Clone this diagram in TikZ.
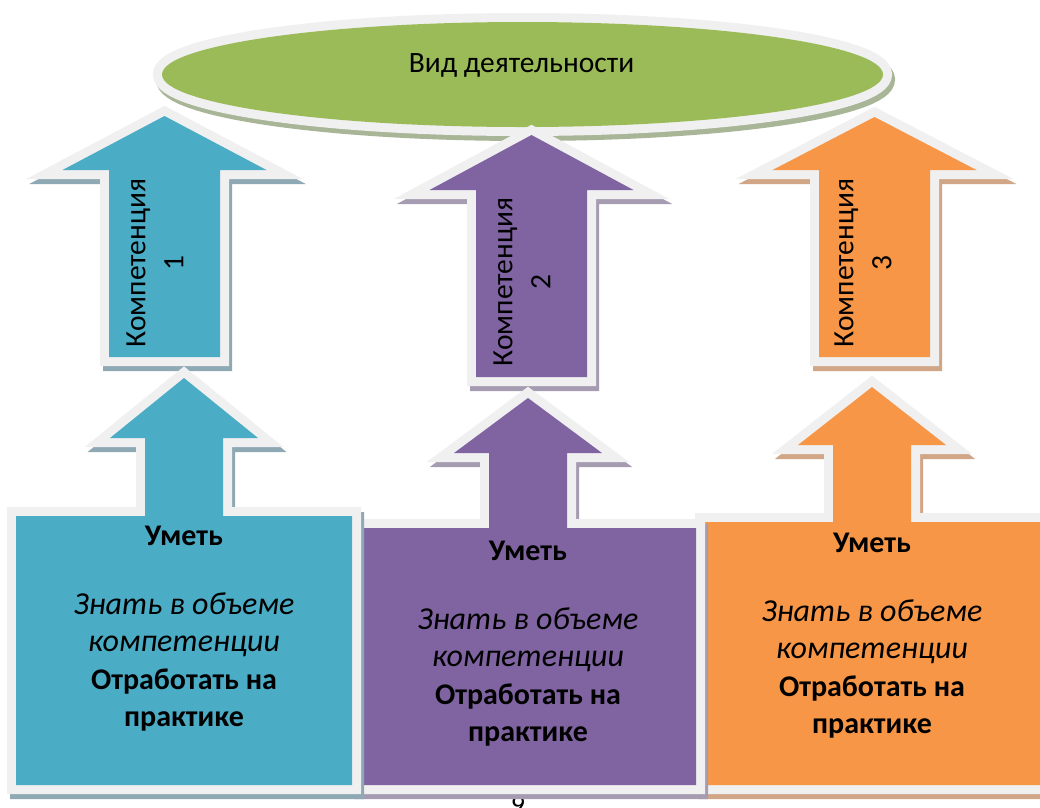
\documentclass[tikz,border=0pt]{standalone}
\usepackage{fontspec}
\setmainfont{Carlito}
\definecolor{cblue}{HTML}{4BACC6}
\definecolor{cpurple}{HTML}{8064A2}
\definecolor{corange}{HTML}{F79646}
\definecolor{cgreen}{HTML}{9BBB59}
\definecolor{cedge}{HTML}{F0F0F0}
\definecolor{sblue}{HTML}{8EA9B4}
\definecolor{spurple}{HTML}{A69CB2}
\definecolor{sorange}{HTML}{D0A687}
\definecolor{sgreen}{HTML}{A8B596}
% top arrow: center, tip y, head base y, bottom y
\newcommand{\TopArrowPath}[4]{(#1,#2) -- ({#1+102},#3) -- ({#1+55.5},#3) -- ({#1+55.5},#4) -- ({#1-55.5},#4) -- ({#1-55.5},#3) -- ({#1-102},#3) -- cycle}
% lower arrow with box: center, tip y, head base y, box top y, box left, box right
\newcommand{\BoxArrowPath}[6]{(#1,#2) -- ({#1+74},#3) -- ({#1+39},#3) -- ({#1+39},#4) -- (#6,#4) -- (#6,785) -- (#5,785) -- (#5,#4) -- ({#1-39},#4) -- ({#1-39},#3) -- ({#1-74},#3) -- cycle}
\tikzset{
  shapeshadow/.style={fill=#1, draw=#1, line width=18pt, line join=miter, shift={(3,5)}},
  shapeedge/.style={draw=cedge, line width=18pt, line join=miter},
  shapefill/.style={fill=#1},
  comptext/.style={rotate=90, align=center, inner sep=0pt, font=\fontsize{29.5}{38}\selectfont},
  lowtext/.style={align=center, inner sep=0pt, font=\fontsize{30}{37.5}\selectfont},
}
\newcommand{\It}[1]{{\fontsize{32}{37.5}\selectfont\itshape #1}}
\begin{document}
\begin{tikzpicture}[x=1pt, y=-1pt]
\useasboundingbox (0,0) rectangle (1040,807);
\fill[white] (0,0) rectangle (1040,807);
% page number (mostly hidden, as in the reference)
\node[inner sep=0pt, font=\fontsize{28}{30}\selectfont] (pagenum) at (518,805) {9};
% ellipse
\path[fill=sgreen, draw=sgreen, line width=18pt] (525.5,79.5) ellipse [x radius=360.5pt, y radius=52.5pt];
\path[draw=cedge, line width=18pt] (522.5,74.5) ellipse [x radius=360.5pt, y radius=52.5pt];
\path[fill=cgreen] (522.5,74.5) ellipse [x radius=360.5pt, y radius=52.5pt];
\node[inner sep=0pt, font=\fontsize{29.5}{34}\selectfont] (vid) at (521.5,65) {Вид деятельности};
% top arrows
\path[shapeshadow=sblue] \TopArrowPath{164.5}{116}{170}{357};
\path[shapeedge] \TopArrowPath{164.5}{116}{170}{357};
\path[shapefill=cblue] \TopArrowPath{164.5}{116}{170}{357};
\path[shapeshadow=spurple] \TopArrowPath{531.5}{135}{190}{377};
\path[shapeedge] \TopArrowPath{531.5}{135}{190}{377};
\path[shapefill=cpurple] \TopArrowPath{531.5}{135}{190}{377};
\path[shapeshadow=sorange] \TopArrowPath{874.5}{117}{170}{357};
\path[shapeedge] \TopArrowPath{874.5}{117}{170}{357};
\path[shapefill=corange] \TopArrowPath{874.5}{117}{170}{357};
\node[comptext] (k1) at (155,263) {Компетенция\\1};
\node[comptext] (k2) at (522,282) {Компетенция\\2};
\node[comptext] (k3) at (863,263) {Компетенция\\3};
% lower arrows with boxes
\path[shapeshadow=sorange] \BoxArrowPath{872}{387}{445}{522}{704}{1070};
\path[shapeedge] \BoxArrowPath{872}{387}{445}{522}{704}{1070};
\path[shapefill=corange] \BoxArrowPath{872}{387}{445}{522}{704}{1070};
\path[shapeshadow=spurple] \BoxArrowPath{528}{398}{453}{528}{360}{696};
\path[shapeedge] \BoxArrowPath{528}{398}{453}{528}{360}{696};
\path[shapefill=cpurple] \BoxArrowPath{528}{398}{453}{528}{360}{696};
\path[shapeshadow=sblue] \BoxArrowPath{184}{378}{438}{516}{16}{352};
\path[shapeedge] \BoxArrowPath{184}{378}{438}{516}{16}{352};
\path[shapefill=cblue] \BoxArrowPath{184}{378}{438}{516}{16}{352};
\node[lowtext, anchor=north] (u1) at (184,526) {\textbf{Уметь}\\[31pt]\It{Знать в объеме}\\\It{компетенции}\\\textbf{Отработать на}\\\textbf{практике}};
\node[lowtext, anchor=north] (u2) at (528,541) {\textbf{Уметь}\\[31pt]\It{Знать в объеме}\\\It{компетенции}\\\textbf{Отработать на}\\\textbf{практике}};
\node[lowtext, anchor=north] (u3) at (872,533) {\textbf{Уметь}\\[31pt]\It{Знать в объеме}\\\It{компетенции}\\\textbf{Отработать на}\\\textbf{практике}};
\end{tikzpicture}
\end{document}
